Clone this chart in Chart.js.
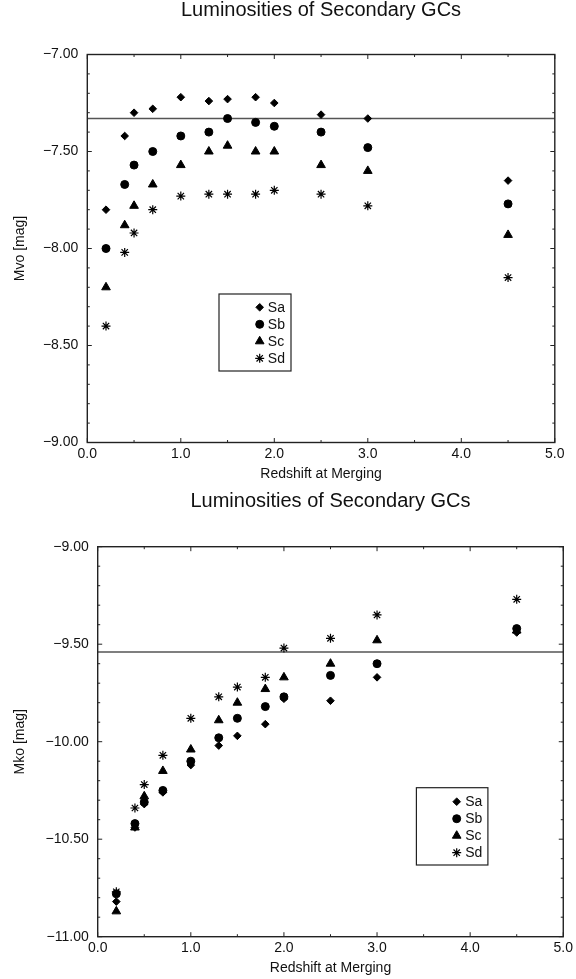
<!DOCTYPE html>
<html lang="en">
<head>
    <meta charset="UTF-8">
    <title>Luminosities of Secondary GCs</title>
    <script src="https://cdn.jsdelivr.net/npm/chart.js@4"></script>
    <style>
body {
    margin: 0;
    padding: 0;
    background: #fff;
}
.panel {
    position: absolute;
    left: 0;
}
    </style>
</head>
<body>
    <canvas id="mvoChart" class="panel" width="576" height="490" style="top:0"></canvas>
    <canvas id="mkoChart" class="panel" width="576" height="489" style="top:490px"></canvas>
    <script>
        // redshift at merging
        const redshift = [0.2, 0.4, 0.5, 0.7, 1.0, 1.3, 1.5, 1.8, 2.0, 2.5, 3.0, 4.5];
        const types = ['Sa', 'Sb', 'Sc', 'Sd'];

        // V band
        const mvoSa = [-7.80, -7.42, -7.30, -7.28, -7.22, -7.24, -7.23, -7.22, -7.25, -7.31, -7.33, -7.65];
        const mvoSb = [-8.00, -7.67, -7.57, -7.50, -7.42, -7.40, -7.33, -7.35, -7.37, -7.40, -7.48, -7.77];
        const mvoSc = [-8.20, -7.88, -7.78, -7.67, -7.57, -7.50, -7.47, -7.50, -7.50, -7.57, -7.60, -7.93];
        const mvoSd = [-8.40, -8.02, -7.92, -7.80, -7.73, -7.72, -7.72, -7.72, -7.70, -7.72, -7.78, -8.15];
        const mvoRef = -7.33;

        // K band
        const mkoSa = [-10.82, -10.44, -10.32, -10.26, -10.12, -10.02, -9.97, -9.91, -9.78, -9.79, -9.67, -9.44];
        const mkoSb = [-10.78, -10.42, -10.31, -10.25, -10.10, -9.98, -9.88, -9.82, -9.77, -9.66, -9.60, -9.42];
        const mkoSc = [-10.87, -10.44, -10.28, -10.15, -10.04, -9.89, -9.80, -9.73, -9.67, -9.60, -9.48, -9.43];
        const mkoSd = [-10.77, -10.34, -10.22, -10.07, -9.88, -9.77, -9.72, -9.67, -9.52, -9.47, -9.35, -9.27];
        const mkoRef = -9.54;

        const xRange = [0, 5];
        const mvoRange = [-9, -7];
        const mkoRange = [-11, -9];

        const markers = [
            { pointStyle: 'rectRot', radius: 3.8, borderWidth: 1 },
            { pointStyle: 'circle', radius: 4.0, borderWidth: 1 },
            { pointStyle: 'triangle', radius: 5.0, borderWidth: 1 },
            { pointStyle: 'star', radius: 4.5, borderWidth: 1.2 }
        ];

        Chart.defaults.font.family = "'Liberation Sans', Arial, sans-serif";
        Chart.defaults.color = '#111';

        const minus = v => v < 0 ? '\u2212' + Math.abs(v).toFixed(2) : v.toFixed(2);

        // frame, inward tick marks and the boxed legend
        const framePlugin = {
            id: 'frame',
            afterDraw(chart, args, opts) {
                const { ctx, chartArea: a, scales: { x, y } } = chart;
                ctx.save();
                ctx.strokeStyle = '#222';
                ctx.lineWidth = 1;
                ctx.beginPath();
                const ny = Math.round((y.max - y.min) / 0.1);
                for (let i = 0; i <= ny; i++) {
                    const py = y.getPixelForValue(y.min + i * 0.1);
                    const len = i % 5 === 0 ? 4.5 : 2.5;
                    ctx.moveTo(a.left, py); ctx.lineTo(a.left + len, py);
                    ctx.moveTo(a.right, py); ctx.lineTo(a.right - len, py);
                }
                const nx = Math.round((x.max - x.min) / 0.5);
                for (let i = 0; i <= nx; i++) {
                    const px = x.getPixelForValue(x.min + i * 0.5);
                    const len = i % 2 === 0 ? 4.5 : 2.5;
                    ctx.moveTo(px, a.bottom); ctx.lineTo(px, a.bottom - len);
                    ctx.moveTo(px, a.top); ctx.lineTo(px, a.top + len);
                }
                ctx.stroke();
                ctx.lineWidth = 1.4;
                ctx.strokeRect(a.left, a.top, a.right - a.left, a.bottom - a.top);

                // legend
                const lg = opts.legend;
                const bx = a.left + lg.left, by = a.top + lg.top;
                ctx.lineWidth = 1.2;
                ctx.strokeRect(bx, by, lg.width, lg.height);
                ctx.font = "14px 'Liberation Sans', Arial, sans-serif";
                ctx.textAlign = 'left';
                ctx.textBaseline = 'middle';
                chart.data.datasets.filter(d => d.isType).forEach((d, i) => {
                    const my = by + lg.first + i * lg.row;
                    ctx.fillStyle = '#000';
                    ctx.strokeStyle = '#000';
                    ctx.lineWidth = d.borderWidth;
                    Chart.helpers.drawPoint(ctx, {
                        pointStyle: d.pointStyle, radius: d.pointRadius,
                        borderWidth: d.borderWidth, rotation: 0
                    }, bx + lg.marker, my);
                    ctx.fillStyle = '#111';
                    ctx.fillText(d.label, bx + lg.text, my + 0.5);
                });
                ctx.restore();
            }
        };

        function buildDatasets(series, ref) {
            const sets = series.map((vals, i) => ({
                label: types[i],
                isType: true,
                data: redshift.map((z, j) => ({ x: z, y: vals[j] })),
                pointStyle: markers[i].pointStyle,
                pointRadius: markers[i].radius,
                pointHoverRadius: markers[i].radius,
                borderWidth: markers[i].borderWidth,
                backgroundColor: '#000',
                borderColor: '#000',
                order: 4 - i
            }));
            sets.push({
                label: 'ref',
                data: [{ x: xRange[0], y: ref }, { x: xRange[1], y: ref }],
                showLine: true,
                pointRadius: 0,
                borderColor: '#555',
                borderWidth: 1.3,
                order: 10
            });
            return sets;
        }

        function makeChart(id, cfg) {
            return new Chart(document.getElementById(id), {
                type: 'scatter',
                data: { datasets: buildDatasets(cfg.series, cfg.ref) },
                plugins: [framePlugin],
                options: {
                    responsive: false,
                    animation: false,
                    layout: { padding: { left: 0, right: cfg.padRight, top: 0, bottom: 0 } },
                    plugins: {
                        legend: { display: false },
                        tooltip: { enabled: false },
                        title: {
                            display: true,
                            text: 'Luminosities of Secondary GCs',
                            fullSize: false,
                            color: '#111',
                            font: { size: 20, weight: 'normal', lineHeight: cfg.titleLH },
                            padding: { top: 0, bottom: cfg.titleGap }
                        },
                        frame: { legend: cfg.legend }
                    },
                    scales: {
                        x: {
                            type: 'linear',
                            min: xRange[0],
                            max: xRange[1],
                            grid: { display: false, drawTicks: false },
                            border: { display: false },
                            ticks: {
                                stepSize: 1,
                                padding: 3,
                                font: { size: 14 },
                                callback: v => v.toFixed(1)
                            },
                            title: {
                                display: true,
                                text: 'Redshift at Merging',
                                font: { size: 14 },
                                padding: { top: 0, bottom: cfg.xTitlePad }
                            },
                            afterFit: s => { s.height = cfg.xHeight; }
                        },
                        y: {
                            type: 'linear',
                            min: cfg.yRange[0],
                            max: cfg.yRange[1],
                            grid: { display: false, drawTicks: false },
                            border: { display: false },
                            ticks: {
                                stepSize: 0.5,
                                padding: 9,
                                font: { size: 14 },
                                callback: v => minus(v)
                            },
                            title: {
                                display: true,
                                text: cfg.yTitle,
                                font: { size: 14 },
                                padding: { top: 11.6, bottom: 0 }
                            },
                            afterFit: s => { s.width = cfg.yWidth; }
                        }
                    }
                }
            });
        }

        makeChart('mvoChart', {
            series: [mvoSa, mvoSb, mvoSc, mvoSd],
            ref: mvoRef,
            yRange: mvoRange,
            yTitle: 'Mvo [mag]',
            padRight: 21.2,
            titleLH: 1.0,
            titleGap: 34.5,
            xHeight: 47.5,
            xTitlePad: 7.1,
            yWidth: 87.3,
            legend: { left: 131.7, top: 239.5, width: 72, height: 77, first: 13.3, row: 17, marker: 40.7, text: 48.8 }
        });

        makeChart('mkoChart', {
            series: [mkoSa, mkoSb, mkoSc, mkoSd],
            ref: mkoRef,
            yRange: mkoRange,
            yTitle: 'Mko [mag]',
            padRight: 10.8,
            titleLH: 1.1,
            titleGap: 34.7,
            xHeight: 42.3,
            xTitlePad: 2.1,
            yWidth: 97.7,
            legend: { left: 318.7, top: 241, width: 71.5, height: 77.3, first: 14, row: 17, marker: 40.3, text: 48.8 }
        });
    </script>
</body>
</html>
